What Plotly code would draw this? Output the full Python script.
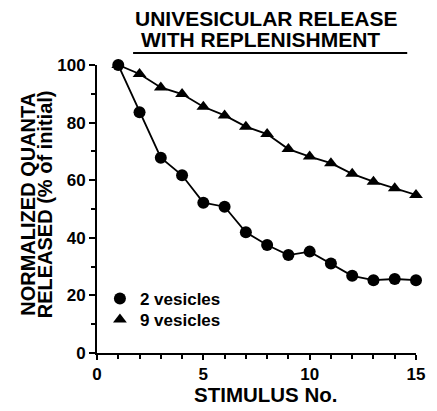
import plotly.graph_objects as go

# ---- data ----
stimulus = list(range(1, 16))
two_vesicles = [100, 83.6, 67.8, 61.7, 52.2, 50.8, 41.9, 37.5, 34.0, 35.2, 31.1, 26.8, 25.3, 25.7, 25.3]
nine_vesicles = [100, 96.9, 92.2, 89.9, 85.5, 82.5, 78.6, 76.0, 70.8, 68.2, 65.9, 62.2, 59.5, 57.2, 54.9]
series_names = ["2 vesicles", "9 vesicles"]
x_ticks = [0, 5, 10, 15]
y_ticks = [0, 20, 40, 60, 80, 100]
title_lines = ["UNIVESICULAR RELEASE", "WITH REPLENISHMENT"]
x_title = "STIMULUS No."
y_title_lines = ["NORMALIZED QUANTA", "RELEASED (% of initial)"]

W, H = 437, 411
L, R, T, B = 97, 13, 65, 58
PW, PH = W - L - R, H - T - B
FONT = "Liberation Sans, Arial, Helvetica, sans-serif"


def px(x):
    return (x - L) / PW


def py(y):
    return (H - B - y) / PH


fig = go.Figure()

fig.add_trace(go.Scatter(
    x=stimulus, y=nine_vesicles, mode="lines+markers", showlegend=False,
    line=dict(color="black", width=1.8),
    marker=dict(symbol="triangle-up", size=12, color="black"),
    cliponaxis=False))
fig.add_trace(go.Scatter(
    x=stimulus, y=two_vesicles, mode="lines+markers", showlegend=False,
    line=dict(color="black", width=1.8),
    marker=dict(symbol="circle", size=12, color="black"),
    cliponaxis=False))

# legend-only entries, each in its own legend box for exact placement
fig.add_trace(go.Scatter(x=[None], y=[None], mode="markers", name=series_names[0],
                         legend="legend",
                         marker=dict(symbol="circle", size=12, color="black")))
fig.add_trace(go.Scatter(x=[None], y=[None], mode="markers", name=series_names[1],
                         legend="legend2",
                         marker=dict(symbol="triangle-up", size=13, color="black")))

axis_common = dict(
    showline=True, linecolor="black", linewidth=2, showgrid=False, zeroline=False,
    ticks="outside", tickcolor="black", tickwidth=2,
    tickfont=dict(family=FONT, size=17, color="black", weight="bold"),
)

fig.update_xaxes(range=[0, 15], tickvals=x_ticks, ticklen=5,
                 minor=dict(dtick=1, ticklen=3.5, tickwidth=2, tickcolor="black", ticks="outside"),
                 **axis_common)
fig.update_yaxes(range=[0, 100], tickvals=y_ticks, ticklen=6,
                 minor=dict(dtick=10, ticklen=4, tickwidth=2, tickcolor="black", ticks="outside"),
                 **axis_common)

annotations = [
    dict(text=title_lines[0], x=px(271), y=py(19), font=dict(size=21)),
    dict(text=title_lines[1], x=px(265), y=py(40), font=dict(size=21)),
    dict(text=x_title, x=px(270), y=py(394), font=dict(size=20.5)),
    dict(text=y_title_lines[0], x=px(26), y=py(204), textangle=-90, font=dict(size=20)),
    dict(text=y_title_lines[1], x=px(44), y=py(204), textangle=-90, font=dict(size=20)),
]
for a in annotations:
    a.update(xref="paper", yref="paper", showarrow=False, xanchor="center", yanchor="middle")
    a["font"].update(family=FONT, color="black", weight="bold")
    fig.add_annotation(**a)

fig.add_shape(type="line", xref="paper", yref="paper",
              x0=px(134), x1=px(415), y0=py(53), y1=py(53),
              line=dict(color="black", width=2))

legend_common = dict(xanchor="left", yanchor="middle",
                     bgcolor="rgba(0,0,0,0)", borderwidth=0,
                     font=dict(family=FONT, size=17, color="black", weight="bold"),
                     itemsizing="constant")

fig.update_layout(
    width=W, height=H,
    margin=dict(l=L, r=R, t=T, b=B, pad=0),
    paper_bgcolor="white", plot_bgcolor="white",
    showlegend=True,
    legend=dict(x=px(100), y=py(299), **legend_common),
    legend2=dict(x=px(100), y=py(320), **legend_common),
)

fig.write_html("out.html", config={"displayModeBar": False},
               post_script="document.body.style.margin='0';")
